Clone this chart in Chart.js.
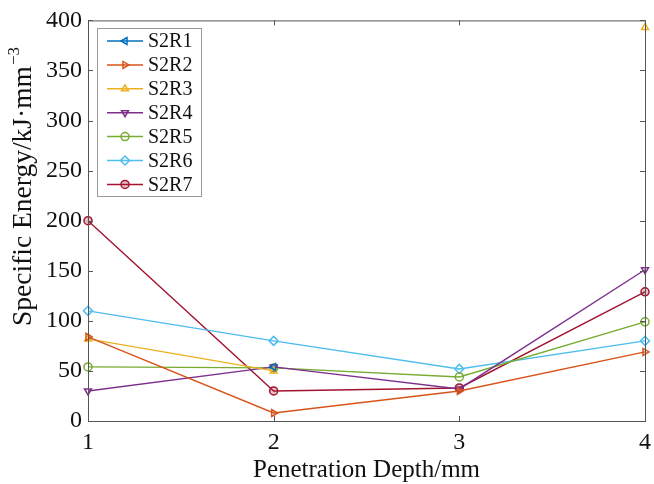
<!DOCTYPE html>
<html>
<head>
<meta charset="utf-8">
<script src="https://cdn.jsdelivr.net/npm/chart.js@4"></script>
<style>
  html, body { margin: 0; padding: 0; background: #fff; }
  #wrap { width: 654px; height: 484px; }
</style>
</head>
<body>
<div id="wrap"><canvas id="chart" width="654" height="484"></canvas></div>
<script>
const depths = [1, 2, 3, 4];
const seriesNames = ["S2R1", "S2R2", "S2R3", "S2R4", "S2R5", "S2R6", "S2R7"];
const s2r1 = [null, 54, null, null];
const s2r2 = [84, 8, 30, 69];
const s2r3 = [82, 50, null, 393];
const s2r4 = [30, 54, 32, 151];
const s2r5 = [54, 53, 44, 99];
const s2r6 = [110, 80, 52, 80];
const s2r7 = [200, 30, 33, 129];
const yTicks = [0, 50, 100, 150, 200, 250, 300, 350, 400];

const colors = ["#0072BD", "#D95319", "#EDB120", "#7E2F8E", "#77AC30", "#4DBEEE", "#A2142F"];
const styles = ["triangle", "triangle", "triangle", "triangle", "circle", "rectRot", "circle"];
const rotations = [-90, 90, 0, 180, 0, 0, 0];
const allValues = [s2r1, s2r2, s2r3, s2r4, s2r5, s2r6, s2r7];

const font = "'Liberation Serif', 'Times New Roman', serif";
const axisColor = "#555";

const datasets = seriesNames.map((name, i) => ({
  label: name,
  data: allValues[i].map((v, j) => ({ x: depths[j], y: v })),
  borderColor: colors[i],
  backgroundColor: i === 6 ? colors[i] + "44" : "rgba(255,255,255,0)",
  pointBorderColor: colors[i],
  pointStyle: styles[i],
  pointRotation: rotations[i],
  pointRadius: i === 5 ? 4.5 : 4,
  pointBorderWidth: 1.5,
  borderWidth: 1.4,
  spanGaps: false,
  clip: false,
  tension: 0
}));

// box frame, inward ticks, y title with superscript, legend
const frame = {
  id: "frame",
  afterDatasetsDraw(chart) {
    const { ctx, chartArea: a, scales } = chart;
    ctx.save();
    ctx.strokeStyle = axisColor;
    ctx.lineWidth = 1;
    ctx.strokeRect(a.left + 0.5, a.top + 0.5, a.right - a.left, a.bottom - a.top);
    ctx.beginPath();
    yTicks.forEach(v => {
      const y = Math.round(scales.y.getPixelForValue(v)) + 0.5;
      ctx.moveTo(a.left, y); ctx.lineTo(a.left + 5, y);
      ctx.moveTo(a.right, y); ctx.lineTo(a.right - 5, y);
    });
    depths.forEach(v => {
      const x = Math.round(scales.x.getPixelForValue(v)) + 0.5;
      ctx.moveTo(x, a.bottom); ctx.lineTo(x, a.bottom - 5);
      ctx.moveTo(x, a.top); ctx.lineTo(x, a.top + 5);
    });
    ctx.stroke();
    ctx.restore();
  },
  afterDraw(chart) {
    const { ctx } = chart;
    // y axis title
    ctx.save();
    ctx.translate(31, 187);
    ctx.rotate(-Math.PI / 2);
    ctx.fillStyle = "#111";
    ctx.textBaseline = "alphabetic";
    const main = "Specific Energy/kJ·mm";
    ctx.font = "27.5px " + font;
    const w1 = ctx.measureText(main).width;
    ctx.font = "17px " + font;
    const w2 = ctx.measureText("−3").width;
    const x0 = -(w1 + w2) / 2;
    ctx.font = "27.5px " + font;
    ctx.fillText(main, x0, 0);
    ctx.font = "17px " + font;
    ctx.fillText("−3", x0 + w1 + 1, -12);
    ctx.restore();

    // legend
    const box = { x: 97.5, y: 28.5, w: 104, h: 168 };
    ctx.save();
    ctx.fillStyle = "#fff";
    ctx.fillRect(box.x, box.y, box.w, box.h);
    ctx.strokeStyle = "#999";
    ctx.lineWidth = 1;
    ctx.strokeRect(box.x, box.y, box.w, box.h);
    ctx.font = "20px " + font;
    ctx.textBaseline = "middle";
    chart.data.datasets.forEach((ds, i) => {
      const y = 41 + i * 23.9;
      ctx.strokeStyle = ds.borderColor;
      ctx.lineWidth = 1.5;
      ctx.beginPath();
      ctx.moveTo(107, y); ctx.lineTo(143, y);
      ctx.stroke();
      ctx.fillStyle = ds.backgroundColor;
      Chart.helpers.drawPoint(ctx, {
        pointStyle: ds.pointStyle, radius: ds.pointRadius,
        rotation: ds.pointRotation, borderWidth: 1.5
      }, 125, y);
      ctx.fillStyle = "#111";
      ctx.fillText(ds.label, 148, y + 1);
    });
    ctx.restore();
  }
};

new Chart(document.getElementById("chart"), {
  type: "line",
  data: { datasets },
  plugins: [frame],
  options: {
    responsive: false,
    animation: false,
    layout: { padding: { top: 19, right: 9, left: 0, bottom: 0 } },
    plugins: { legend: { display: false }, tooltip: { enabled: false } },
    scales: {
      x: {
        type: "linear", min: 1, max: 4,
        afterFit: s => { s.height = 63; },
        afterBuildTicks: s => { s.ticks = depths.map(v => ({ value: v })); },
        grid: { display: false },
        border: { display: false },
        ticks: { color: "#111", font: { family: font, size: 24 }, padding: -1 },
        title: { display: true, text: "Penetration Depth/mm", color: "#111",
                 font: { family: font, size: 25 }, padding: { top: 4, bottom: -1 } }
      },
      y: {
        min: 0, max: 400,
        afterFit: s => { s.width = 88; },
        afterBuildTicks: s => { s.ticks = yTicks.map(v => ({ value: v })); },
        grid: { display: false, drawTicks: false },
        border: { display: false },
        ticks: { color: "#111", font: { family: font, size: 24 }, padding: 6 },
        title: { display: false }
      }
    }
  }
});
</script>
</body>
</html>
